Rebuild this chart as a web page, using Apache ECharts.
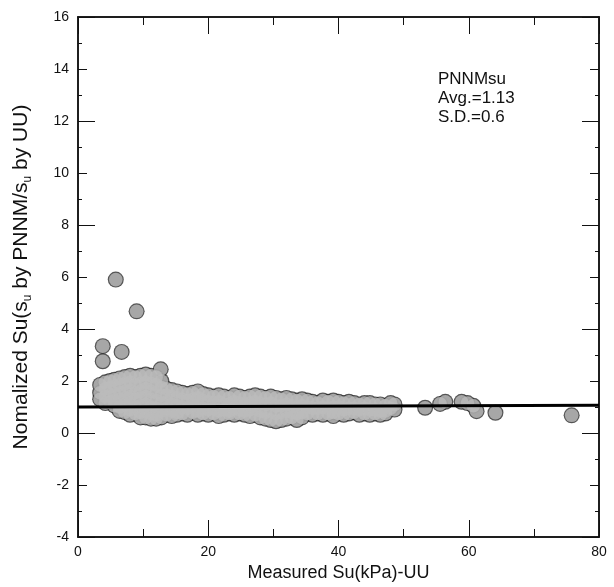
<!DOCTYPE html>
<html>
<head>
<meta charset="utf-8">
<script src="https://cdn.jsdelivr.net/npm/echarts@6/dist/echarts.min.js"></script>
<style>
html,body{margin:0;padding:0;background:#fff;}
#chart{width:614px;height:587px;}
</style>
</head>
<body>
<div id="chart"></div>
<script>
// ---- data ----
var xTickLabels = ['0', '20', '40', '60', '80'];
var yTickLabels = ['-4', '-2', '0', '2', '4', '6', '8', '10', '12', '14', '16'];

// isolated high points [Measured Su, Normalized]
var outlierPoints = [[5.8, 5.9], [9.0, 4.68], [3.8, 3.34], [3.8, 2.76], [6.7, 3.12], [12.7, 2.45]];

// dense cluster, listed as [Measured Su, [Normalized values]]
var clusterColumns = [
  [3.4, [1.85, 1.55, 1.3]],
  [4.2, [1.95, 1.7, 1.4, 1.15]],
  [4.9, [2.0, 1.75, 1.45, 1.2]],
  [5.6, [2.05, 1.8, 1.5, 1.25, 1.05]],
  [6.4, [2.1, 1.85, 1.55, 1.3, 1.0, 0.85]],
  [7.2, [2.15, 1.9, 1.6, 1.35, 1.1, 0.8]],
  [8.0, [2.2, 1.95, 1.65, 1.4, 1.15, 0.9, 0.7]],
  [8.8, [2.15, 1.85, 1.55, 1.3, 1.0, 0.75]],
  [9.6, [2.2, 1.9, 1.6, 1.35, 1.05, 0.8, 0.6]],
  [10.4, [2.25, 1.95, 1.7, 1.4, 1.1, 0.85, 0.6]],
  [11.2, [2.2, 1.9, 1.6, 1.3, 1.0, 0.75, 0.55]],
  [12.0, [2.15, 1.85, 1.55, 1.25, 0.95, 0.7, 0.55]],
  [12.8, [2.0, 1.75, 1.45, 1.15, 0.85, 0.6]],
  [13.6, [1.7, 1.45, 1.2, 0.95, 0.7]],
  [14.4, [1.65, 1.4, 1.1, 0.85, 0.65]],
  [15.2, [1.6, 1.35, 1.05, 0.8, 0.7]],
  [16.0, [1.55, 1.3, 1.0, 0.75]],
  [16.8, [1.5, 1.25, 0.95, 0.7]],
  [17.6, [1.55, 1.3, 1.05, 0.8]],
  [18.4, [1.6, 1.35, 1.1, 0.85, 0.7]],
  [19.2, [1.5, 1.25, 0.95, 0.75]],
  [20.0, [1.45, 1.2, 0.9, 0.7]],
  [20.8, [1.4, 1.15, 0.95, 0.75]],
  [21.6, [1.45, 1.2, 0.85, 0.65]],
  [22.4, [1.4, 1.1, 0.9, 0.7]],
  [23.2, [1.35, 1.1, 0.85, 0.75]],
  [24.0, [1.45, 1.2, 0.95, 0.7]],
  [24.8, [1.4, 1.15, 0.9, 0.75]],
  [25.6, [1.35, 1.1, 0.85, 0.7]],
  [26.4, [1.4, 1.15, 0.9, 0.65]],
  [27.2, [1.45, 1.2, 0.95, 0.7]],
  [28.0, [1.4, 1.15, 0.85, 0.6]],
  [28.8, [1.35, 1.1, 0.8, 0.55]],
  [29.6, [1.4, 1.15, 0.85, 0.5]],
  [30.4, [1.35, 1.05, 0.75, 0.45]],
  [31.2, [1.3, 1.05, 0.8, 0.5]],
  [32.0, [1.35, 1.1, 0.85, 0.55]],
  [32.8, [1.3, 1.05, 0.8, 0.6]],
  [33.6, [1.25, 1.0, 0.75, 0.5]],
  [34.4, [1.3, 1.05, 0.8, 0.6]],
  [35.2, [1.25, 1.0, 0.75]],
  [36.0, [1.2, 0.95, 0.7]],
  [36.8, [1.15, 0.95, 0.75]],
  [37.6, [1.25, 1.0, 0.7]],
  [38.4, [1.2, 0.95, 0.75]],
  [39.2, [1.25, 1.0, 0.8, 0.65]],
  [40.0, [1.2, 1.0, 0.75]],
  [40.8, [1.15, 0.9, 0.7]],
  [41.6, [1.2, 0.95, 0.75]],
  [42.4, [1.15, 0.95, 0.8]],
  [43.2, [1.1, 0.9, 0.7]],
  [44.0, [1.15, 0.95, 0.75]],
  [44.8, [1.15, 0.9, 0.7]],
  [45.6, [1.1, 0.9, 0.75]],
  [46.4, [1.1, 0.85, 0.7]],
  [47.2, [1.05, 0.85, 0.75]],
  [48.0, [1.15, 0.95]],
  [48.6, [1.1, 0.9]]
];

// sparse points at higher Su
var tailPoints = [[53.3, 0.97], [55.6, 1.12], [56.4, 1.2], [58.9, 1.2], [59.8, 1.15], [60.7, 1.05], [61.2, 0.84], [64.1, 0.78], [75.8, 0.68]];

// reference line
var refLine = [[0, 1.0], [80, 1.07]];

var annotationLines = ['PNNMsu', 'Avg.=1.13', 'S.D.=0.6'];

// ---- build ----
var allPoints = [];
clusterColumns.forEach(function (c) {
  c[1].forEach(function (v) { allPoints.push([c[0], v]); });
});
outlierPoints.forEach(function (p) { allPoints.push(p); });
tailPoints.forEach(function (p) { allPoints.push(p); });

var FONT = 'Liberation Sans, Arial, sans-serif';
var INK = '#111';

function xAxisDef(pos, interval, tickLen, showLabel, extra) {
  var a = {
    type: 'value', position: pos, min: 0, max: 80, interval: interval,
    axisLine: { show: true, onZero: false, lineStyle: { color: INK, width: 1.5 } },
    axisTick: { show: true, inside: true, length: tickLen, lineStyle: { color: INK, width: 1 } },
    axisLabel: { show: showLabel, margin: 8, fontSize: 14, fontFamily: FONT, color: INK,
      formatter: function (v) { var i = xTickLabels.indexOf(String(v)); return i >= 0 ? xTickLabels[i] : ''; } },
    splitLine: { show: false }
  };
  for (var k in extra) a[k] = extra[k];
  return a;
}
function yAxisDef(pos, interval, tickLen, showLabel, extra) {
  var a = {
    type: 'value', position: pos, min: -4, max: 16, interval: interval,
    axisLine: { show: true, onZero: false, lineStyle: { color: INK, width: 1.5 } },
    axisTick: { show: true, inside: true, length: tickLen, lineStyle: { color: INK, width: 1 } },
    axisLabel: { show: showLabel, margin: 9, fontSize: 14, fontFamily: FONT, color: INK,
      formatter: function (v) { var i = yTickLabels.indexOf(String(v)); return i >= 0 ? yTickLabels[i] : ''; } },
    splitLine: { show: false }
  };
  for (var k in extra) a[k] = extra[k];
  return a;
}

var chart = echarts.init(document.getElementById('chart'), null, { renderer: 'canvas' });
chart.setOption({
  animation: false,
  backgroundColor: '#fff',
  grid: { left: 78, right: 15, top: 17, bottom: 50 },
  xAxis: [
    xAxisDef('bottom', 20, 17, true, {
      name: 'Measured Su(kPa)-UU', nameLocation: 'middle', nameGap: 25,
      nameTextStyle: { fontSize: 18, fontFamily: FONT, color: INK }
    }),
    xAxisDef('bottom', 10, 8, false, {}),
    xAxisDef('top', 20, 17, false, {}),
    xAxisDef('top', 10, 8, false, {})
  ],
  yAxis: [
    yAxisDef('left', 2, 9, true, {
      minorTick: { show: true, splitNumber: 2, length: 4, lineStyle: { color: INK, width: 1 } },
      name: '{t|Nomalized Su(s}{s|u}{t| by PNNM/s}{s|u}{t| by UU)}',
      nameLocation: 'middle', nameGap: 44, nameRotate: 90,
      nameTextStyle: {
        color: INK, fontFamily: FONT,
        rich: {
          t: { fontSize: 21, fontFamily: FONT, color: INK, lineHeight: 26 },
          s: { fontSize: 12, fontFamily: FONT, color: INK, lineHeight: 12, verticalAlign: 'bottom' }
        }
      }
    }),
    yAxisDef('left', 4, 17, false, {}),
    yAxisDef('right', 2, 9, false, {
      minorTick: { show: true, splitNumber: 2, length: 4, lineStyle: { color: INK, width: 1 } }
    }),
    yAxisDef('right', 4, 17, false, {})
  ],
  graphic: [{
    type: 'text', left: 438, top: 70, z: 100,
    style: { text: annotationLines.join('\n'), font: '17px ' + FONT, fill: INK, lineHeight: 19 }
  }],
  series: [
    {
      type: 'scatter', xAxisIndex: 0, yAxisIndex: 0, data: allPoints,
      symbol: 'circle', symbolSize: 16, itemStyle: { color: '#2a2a2a' }, z: 2, silent: true
    },
    {
      type: 'scatter', xAxisIndex: 0, yAxisIndex: 0, data: allPoints,
      symbol: 'circle', symbolSize: 13.6, itemStyle: { color: '#bcbcbc' }, z: 3, silent: true
    },
    {
      type: 'line', xAxisIndex: 0, yAxisIndex: 0, data: refLine,
      showSymbol: false, symbol: 'none', lineStyle: { color: '#000', width: 3 }, z: 5, silent: true
    }
  ]
});
</script>
</body>
</html>
